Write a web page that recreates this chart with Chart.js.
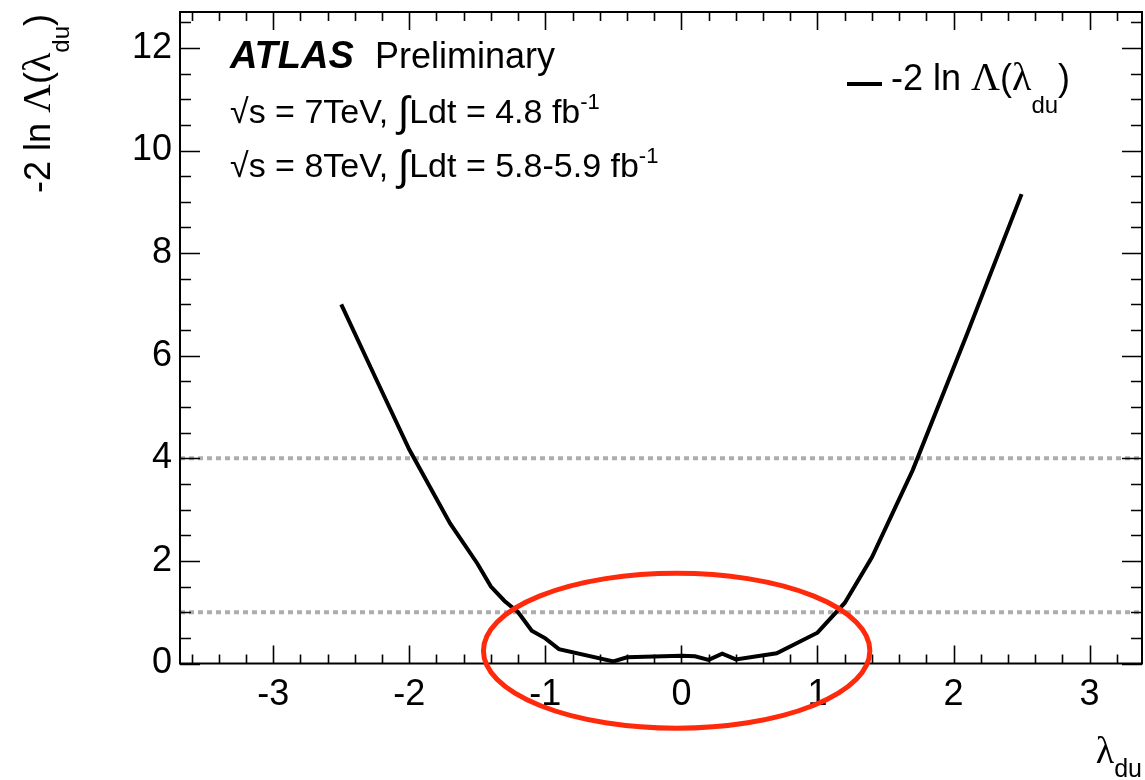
<!DOCTYPE html>
<html>
<head>
<meta charset="utf-8">
<script src="https://cdn.jsdelivr.net/npm/chart.js@4.4.0/dist/chart.umd.min.js"></script>
<style>
  html, body { margin: 0; padding: 0; background: #fff; }
  #wrap { width: 1145px; height: 780px; }
</style>
</head>
<body>
<div id="wrap"><canvas id="c" width="1145" height="780"></canvas></div>
<script>
// Profile likelihood scan of lambda_du
const lambdaValues = [-2.5, -2.25, -2.0, -1.7, -1.5, -1.4, -1.3, -1.2, -1.1, -1.0, -0.9, -0.5, -0.4, 0.0, 0.1, 0.2, 0.3, 0.4, 0.7, 1.0, 1.2, 1.4, 1.7, 2.1, 2.5];
const nllValues    = [7.0, 5.58, 4.17, 2.73, 1.95, 1.5, 1.22, 1.0, 0.64, 0.49, 0.28, 0.04, 0.12, 0.15, 0.14, 0.07, 0.19, 0.08, 0.20, 0.60, 1.18, 2.07, 3.77, 6.43, 9.15];

// Reference levels (1 sigma and 2 sigma)
const refLevels = [1, 4];

// Axis ranges and labelled ticks
const xRange = [-3.685, 3.385];
const yRange = [0, 12.7];
const xTicks = [-3, -2, -1, 0, 1, 2, 3];
const yTicks = [0, 2, 4, 6, 8, 10, 12];
const xMinorStep = 0.2;
const yMinorStep = 0.5;

// Highlighted region (centre and half-widths, in axis units)
const highlight = { x: -0.035, y: 0.25, rx: 1.42, ry: 1.51 };

const SANS = '"Liberation Sans", Arial, Helvetica, sans-serif';
const SERIF = '"Liberation Serif", "Times New Roman", serif';

function drawPieces(ctx, pieces, x, y) {
  let cx = x;
  for (const p of pieces) {
    ctx.font = p.font;
    ctx.fillText(p.t, cx, y + (p.dy || 0));
    cx += ctx.measureText(p.t).width + (p.gap || 0);
  }
  return cx;
}
function piecesWidth(ctx, pieces) {
  let w = 0;
  for (const p of pieces) { ctx.font = p.font; w += ctx.measureText(p.t).width + (p.gap || 0); }
  return w;
}

const decorPlugin = {
  id: 'decor',
  afterDraw(chart) {
    const { ctx, chartArea: a, scales } = chart;
    const xs = scales.x, ys = scales.y;
    ctx.save();
    ctx.fillStyle = '#000';
    ctx.strokeStyle = '#000';

    // ticks on all four sides, pointing inward
    ctx.lineWidth = 1.6;
    ctx.beginPath();
    const eps = 1e-6;
    const xStart = Math.ceil(xRange[0] / xMinorStep) * xMinorStep;
    for (let v = xStart; v <= xRange[1] + eps; v += xMinorStep) {
      const vv = Math.round(v * 10) / 10;
      const major = xTicks.some(t => Math.abs(t - vv) < eps);
      const len = major ? 18 : 9;
      const px = Math.round(xs.getPixelForValue(vv)) + 0.5;
      ctx.moveTo(px, a.bottom); ctx.lineTo(px, a.bottom - len);
      ctx.moveTo(px, a.top); ctx.lineTo(px, a.top + len);
    }
    for (let v = 0; v <= yRange[1] + eps; v += yMinorStep) {
      const major = yTicks.some(t => Math.abs(t - v) < eps);
      const len = major ? 20 : 11;
      const py = Math.round(ys.getPixelForValue(v)) + 0.5;
      ctx.moveTo(a.left, py); ctx.lineTo(a.left + len, py);
      ctx.moveTo(a.right, py); ctx.lineTo(a.right - len, py);
    }
    ctx.stroke();

    // frame
    ctx.lineWidth = 2;
    ctx.strokeRect(a.left, a.top, a.right - a.left, a.bottom - a.top);

    // highlighted region
    ctx.strokeStyle = '#ff2a0c';
    ctx.lineWidth = 5;
    ctx.beginPath();
    const ex = xs.getPixelForValue(highlight.x);
    const ey = ys.getPixelForValue(highlight.y);
    const erx = xs.getPixelForValue(highlight.x + highlight.rx) - ex;
    const ery = ey - ys.getPixelForValue(highlight.y + highlight.ry);
    ctx.ellipse(ex, ey, erx, ery, 0, 0, Math.PI * 2);
    ctx.stroke();

    ctx.fillStyle = '#000';
    ctx.textAlign = 'left';
    ctx.textBaseline = 'alphabetic';

    // ATLAS label
    ctx.font = 'italic bold 38px ' + SANS;
    ctx.fillText('ATLAS', 230, 68);
    ctx.font = '36px ' + SANS;
    ctx.fillText('Preliminary', 375, 68);

    const f2 = '34px ' + SANS, fs = '22px ' + SANS;
    const fInt = '42px ' + SANS;
    drawPieces(ctx, [
      { t: '\u221As = 7TeV, ', font: f2 },
      { t: '\u222B', font: fInt, dy: 3 },
      { t: 'Ldt = 4.8 fb', font: f2 },
      { t: '-1', font: fs, dy: -14 }
    ], 230, 123);
    drawPieces(ctx, [
      { t: '\u221As = 8TeV, ', font: f2 },
      { t: '\u222B', font: fInt, dy: 3 },
      { t: 'Ldt = 5.8-5.9 fb', font: f2 },
      { t: '-1', font: fs, dy: -14 }
    ], 230, 177);

    // legend
    const ds = chart.data.datasets.find(d => d.isMain);
    ctx.strokeStyle = ds.borderColor;
    ctx.lineWidth = ds.borderWidth;
    ctx.beginPath();
    ctx.moveTo(847, 84); ctx.lineTo(882, 84);
    ctx.stroke();
    drawPieces(ctx, [
      { t: '-2 ln ', font: '36px ' + SANS },
      { t: '\u039B', font: '40px ' + SERIF },
      { t: '(', font: '36px ' + SANS },
      { t: '\u03BB', font: '40px ' + SERIF },
      { t: 'du', font: '24px ' + SANS, dy: 23 },
      { t: ')', font: '36px ' + SANS }
    ], 891, 90);

    // x axis title
    const xt = [
      { t: '\u03BB', font: '38px ' + SERIF },
      { t: 'du', font: '25px ' + SANS, dy: 14 }
    ];
    drawPieces(ctx, xt, 1142 - piecesWidth(ctx, xt), 763);

    // y axis title
    const yt = [
      { t: '-2 ln ', font: '36px ' + SANS },
      { t: '\u039B', font: '40px ' + SERIF },
      { t: '(', font: '36px ' + SANS },
      { t: '\u03BB', font: '40px ' + SERIF },
      { t: 'du', font: '24px ' + SANS, dy: 19 },
      { t: ')', font: '36px ' + SANS }
    ];
    ctx.save();
    ctx.translate(50, 14);
    ctx.rotate(-Math.PI / 2);
    drawPieces(ctx, yt, -piecesWidth(ctx, yt), 0);
    ctx.restore();

    ctx.restore();
  }
};

const tickFont = { family: 'Liberation Sans', size: 36 };

new Chart(document.getElementById('c'), {
  type: 'line',
  data: {
    datasets: [
      ...refLevels.map(level => ({
        label: 'level ' + level,
        data: [{ x: xRange[0], y: level }, { x: xRange[1], y: level }],
        borderColor: '#adadad',
        borderWidth: 4,
        borderDash: [5, 4],
        pointRadius: 0,
        order: 2
      })),
      {
        label: '-2 ln \u039B(\u03BBdu)',
        isMain: true,
        data: lambdaValues.map((x, i) => ({ x, y: nllValues[i] })),
        borderColor: '#000',
        borderWidth: 4,
        pointRadius: 0,
        tension: 0,
        order: 1
      }
    ]
  },
  options: {
    responsive: false,
    animation: false,
    events: [],
    layout: { padding: { left: 0, top: 12, right: 3, bottom: 0 } },
    plugins: { legend: { display: false }, tooltip: { enabled: false } },
    scales: {
      x: {
        type: 'linear',
        min: xRange[0], max: xRange[1],
        afterBuildTicks: s => { s.ticks = xTicks.map(v => ({ value: v })); },
        afterFit: s => { s.height = 116.5; s.paddingLeft = 0; s.paddingRight = 0; },
        grid: { display: false, drawTicks: false },
        border: { display: false },
        ticks: { color: '#000', font: tickFont, padding: 10, maxRotation: 0, autoSkip: false }
      },
      y: {
        type: 'linear',
        min: yRange[0], max: yRange[1],
        afterBuildTicks: s => { s.ticks = yTicks.map(v => ({ value: v })); },
        afterFit: s => { s.width = 180; s.paddingTop = 0; s.paddingBottom = 0; },
        grid: { display: false, drawTicks: false },
        border: { display: false },
        ticks: { color: '#000', font: tickFont, padding: 8, autoSkip: false }
      }
    }
  },
  plugins: [decorPlugin]
});
</script>
</body>
</html>
